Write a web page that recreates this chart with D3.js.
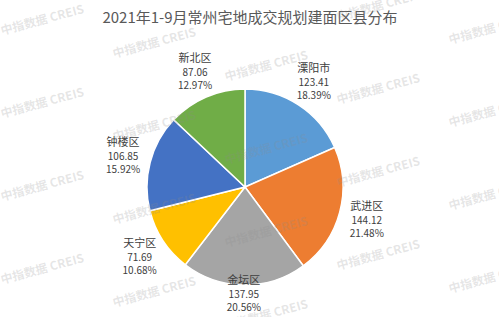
<!DOCTYPE html>
<html>
<head>
<meta charset="utf-8">
<title>常州宅地成交规划建面区县分布</title>
<style>
  body { margin: 0; background: #fff; }
  text { font-family: "Noto Sans CJK SC", "Noto Sans", sans-serif; }
</style>
</head>
<body>
<svg width="499" height="317"></svg>
<script src="https://cdnjs.cloudflare.com/ajax/libs/d3/7.8.5/d3.min.js"></script>
<script>
  // data
  var districts = ["溧阳市", "武进区", "金坛区", "天宁区", "钟楼区", "新北区"];
  var areas = [123.41, 144.12, 137.95, 71.69, 106.85, 87.06];
  var shares = ["18.39%", "21.48%", "20.56%", "10.68%", "15.92%", "12.97%"];
  var colors = ["#5B9BD5", "#ED7D31", "#A5A5A5", "#FFC000", "#4472C4", "#70AD47"];

  var svg = d3.select("svg"),
    width = +svg.attr("width"),
    height = +svg.attr("height"),
    cx = 245, cy = 187, r = 98;

  svg.append("text")
    .attr("x", 250)
    .attr("y", 23)
    .attr("text-anchor", "middle")
    .attr("fill", "#595959")
    .style("font-size", "15px")
    .text("2021年1-9月常州宅地成交规划建面区县分布");

  var color = d3.scaleOrdinal().domain(districts).range(colors);

  var pie = d3.pie().sort(null).value(function (d, i) { return areas[i]; });
  var arcs = pie(districts);

  var arc = d3.arc().innerRadius(0).outerRadius(r);
  var labelArc = d3.arc().innerRadius(126).outerRadius(126);

  var g = svg.append("g").attr("transform", "translate(" + cx + "," + cy + ")");

  g.selectAll("path")
    .data(arcs)
    .enter().append("path")
    .attr("d", arc)
    .attr("fill", function (d) { return color(d.data); })
    .attr("stroke", "#fff")
    .attr("stroke-width", 1.5);

  var labels = g.selectAll("g.lbl")
    .data(arcs)
    .enter().append("g")
    .attr("class", "lbl")
    .attr("transform", function (d) {
      var c = labelArc.centroid(d);
      // keep the label inside the picture at the bottom
      var y = Math.min(c[1], height - 24 - cy);
      return "translate(" + c[0] + "," + y + ")";
    });

  labels.append("text")
    .attr("text-anchor", "middle")
    .attr("dominant-baseline", "central")
    .attr("y", -14)
    .attr("fill", "#404040")
    .style("font-size", "11px")
    .text(function (d) { return d.data; });

  labels.append("text")
    .attr("text-anchor", "middle")
    .attr("dominant-baseline", "central")
    .attr("y", 0)
    .attr("fill", "#404040")
    .style("font-size", "10px")
    .text(function (d) { return areas[d.index].toFixed(2); });

  labels.append("text")
    .attr("text-anchor", "middle")
    .attr("dominant-baseline", "central")
    .attr("y", 13)
    .attr("fill", "#404040")
    .style("font-size", "10px")
    .text(function (d) { return shares[d.index]; });

  // watermark grid
  var wm = svg.append("g").attr("pointer-events", "none");
  for (var col = 0; col < 5; col++) {
    for (var row = -1; row < 4; row++) {
      var wx = 2 + col * 112;
      var wy = 35 + col * 23 + row * 83;
      if (wy < 5 || wy > 330) continue;
      wm.append("text")
        .attr("transform", "translate(" + wx + "," + wy + ") rotate(-15)")
        .attr("fill", "#8c8c8c")
        .attr("fill-opacity", 0.22)
        .style("font-size", "12px")
        .style("font-weight", "bold")
        .text("中指数据 CREIS");
    }
  }
</script>
</body>
</html>
